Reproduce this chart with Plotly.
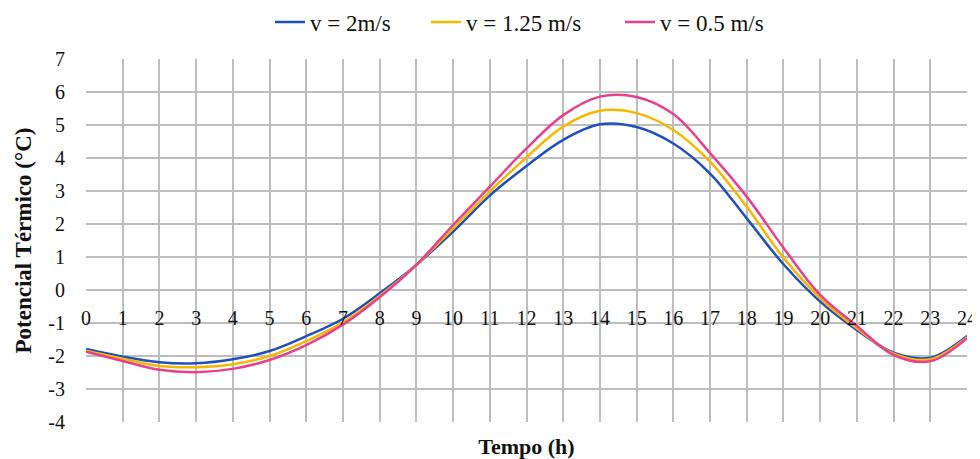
import plotly.graph_objects as go

hours = list(range(0, 25))
v_2 = [-1.79, -2.02, -2.19, -2.22, -2.10, -1.85, -1.40, -0.87, -0.10, 0.76, 1.77, 2.86, 3.76,
       4.55, 5.02, 4.94, 4.44, 3.53, 2.17, 0.78, -0.35, -1.21, -1.90, -2.05, -1.39]
v_125 = [-1.84, -2.08, -2.30, -2.34, -2.25, -2.00, -1.55, -0.98, -0.18, 0.76, 1.87, 2.98, 4.02,
         4.95, 5.43, 5.36, 4.85, 3.89, 2.52, 0.98, -0.25, -1.16, -1.93, -2.10, -1.43]
v_05 = [-1.87, -2.15, -2.42, -2.49, -2.39, -2.12, -1.67, -1.05, -0.22, 0.76, 1.97, 3.13, 4.29,
        5.30, 5.86, 5.85, 5.33, 4.15, 2.83, 1.28, -0.15, -1.09, -1.97, -2.16, -1.46]

names = ["v = 2m/s", "v = 1.25 m/s", "v = 0.5 m/s"]
colors = ["#1F4FBF", "#F5B800", "#E8408F"]
values = [v_2, v_125, v_05]

x_ticks = list(range(0, 25))
y_ticks = list(range(-4, 8))

serif = "Liberation Serif"
OFF = 8  # page body offset
W, H = 980 - OFF, 459 - OFF
L, R, T, B = 86 - OFF, 13, 59 - OFF, 37
pw = W - L - R
ph = H - T - B

fig = go.Figure()
legend_ids = ["legend", "legend2", "legend3"]
legend_px = [270 - OFF, 426 - OFF, 620 - OFF]  # left pixel of each legend box (figure coords)
for name, vals, col, lid in zip(names, values, colors, legend_ids):
    fig.add_trace(go.Scatter(x=hours, y=vals, mode="lines", name=name, legend=lid,
                             line=dict(color=col, width=2.5, shape="spline", smoothing=1.0)))

grid = "#BDBDBD"
legend_common = dict(orientation="h", yanchor="middle", y=1 + (T - (22 - OFF)) / ph, xanchor="left",
                     font=dict(family=serif, size=23, color="#111111"),
                     bgcolor="rgba(0,0,0,0)", itemwidth=30)
layout_legends = {}
for lid, px in zip(legend_ids, legend_px):
    layout_legends[lid] = dict(legend_common, x=(px - L) / pw)

fig.update_layout(
    width=W, height=H,
    margin=dict(l=L, r=R, t=T, b=B, autoexpand=False),
    paper_bgcolor="white", plot_bgcolor="white",
    font=dict(family=serif, size=20, color="#111111"),
    showlegend=True,
    xaxis=dict(range=[0, 24], tickvals=x_ticks, showticklabels=False, automargin=False,
               showgrid=True, gridcolor=grid, gridwidth=1.5, zeroline=False,
               showline=False,
               title=dict(text="<b>Tempo (h)</b>", font=dict(family=serif, size=22), standoff=16)),
    xaxis2=dict(range=[0, 24], tickvals=x_ticks, ticktext=[str(t) for t in x_ticks],
                overlaying="x", anchor="free", position=4 / 11, side="bottom", automargin=False,
                showgrid=False, zeroline=False, showline=False,
                ticks="outside", ticklen=10, tickcolor="rgba(0,0,0,0)",
                tickfont=dict(family=serif, size=20, color="#111111")),
    yaxis=dict(range=[-4, 7], tickvals=y_ticks, ticktext=[str(t) for t in y_ticks],
               automargin=False,
               showgrid=True, gridcolor=grid, gridwidth=1.5, zeroline=False,
               showline=False, ticks="outside", ticklen=16, tickcolor="rgba(0,0,0,0)",
               tickfont=dict(family=serif, size=20, color="#111111"),
               title=dict(text="<b>Potencial Térmico (°C)</b>", font=dict(family=serif, size=23),
                          standoff=10)),
    **layout_legends,
)
fig.add_trace(go.Scatter(x=[0], y=[0], xaxis="x2", mode="markers",
                         marker=dict(opacity=0), showlegend=False, hoverinfo="skip"))
fig.write_html("out.html")
